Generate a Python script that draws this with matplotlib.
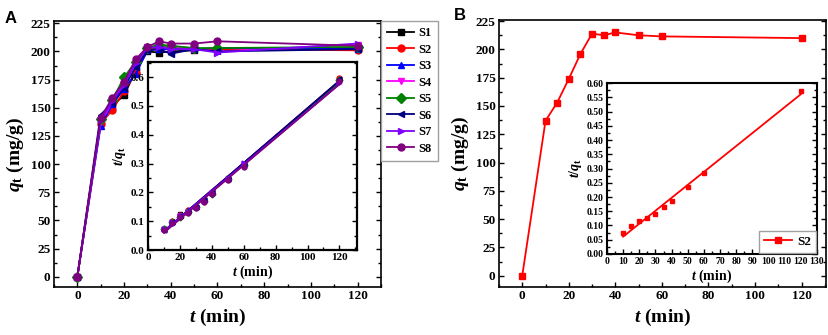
import numpy as np
import matplotlib
matplotlib.use("Agg")
import matplotlib.pyplot as plt
from matplotlib.ticker import MultipleLocator

plt.rcParams['font.family'] = 'Liberation Serif'
plt.rcParams['font.weight'] = 'bold'
plt.rcParams['mathtext.fontset'] = 'custom'
plt.rcParams['mathtext.rm'] = 'Liberation Serif:bold'
plt.rcParams['mathtext.it'] = 'Liberation Serif:bold:italic'
plt.rcParams['mathtext.bf'] = 'Liberation Serif:bold'

# contact time (min)
t = [0, 10, 15, 20, 25, 30, 35, 40, 50, 60, 120]

# panel A: adsorption capacity q_t (mg/g) of the eight samples
labels = ['S1', 'S2', 'S3', 'S4', 'S5', 'S6', 'S7', 'S8']
s1 = [0, 138, 152, 161, 183, 200, 199, 200, 201, 202, 203]
s2 = [0, 136, 148, 165, 181, 202, 203, 203, 202, 202, 201]
s3 = [0, 134, 153, 167, 180, 201, 202, 202, 202, 203, 202]
s4 = [0, 137, 155, 172, 188, 204, 205, 204, 203, 200, 206]
s5 = [0, 140, 157, 177, 191, 203, 206, 205, 203, 203, 204]
s6 = [0, 144, 154, 168, 186, 201, 202, 198, 202, 200, 202]
s7 = [0, 139, 156, 170, 190, 203, 204, 202, 202, 199, 207]
s8 = [0, 141, 159, 173, 193, 204, 209, 207, 207, 209, 205]

# panel B: S2 repeated run
b_s2 = [0, 137, 153, 174, 196, 214, 212.5, 215, 212.5, 211.5, 210]

series = [s1, s2, s3, s4, s5, s6, s7, s8]
colors = ['#000000', '#ff0000', '#0000ff', '#ff00ff', '#008000', '#000080', '#8000ff', '#800080']
markers = ['s', 'o', '^', 'v', 'D', '<', '>', 'o']


def style_axes(ax, size, xmaj, xmin, ymaj, ymin, lw=1.2):
    ax.xaxis.set_major_locator(MultipleLocator(xmaj))
    ax.xaxis.set_minor_locator(MultipleLocator(xmin))
    ax.yaxis.set_major_locator(MultipleLocator(ymaj))
    ax.yaxis.set_minor_locator(MultipleLocator(ymin))
    ax.tick_params(which='both', direction='in', right=True, top=False,
                   labelsize=size, width=1, pad=2.5)
    ax.tick_params(which='major', length=3.5)
    ax.tick_params(which='minor', length=2)
    for sp in ax.spines.values():
        sp.set_linewidth(lw)
    for lab in ax.get_xticklabels() + ax.get_yticklabels():
        lab.set_fontweight('bold')


fig = plt.figure(figsize=(8.29, 3.35), dpi=100)

# ---------- panel A ----------
axA = fig.add_axes([0.0651, 0.1433, 0.3945, 0.794])
handles = []
for y, c, m, lab in zip(series, colors, markers, labels):
    h, = axA.plot(t, y, color=c, marker=m, markersize=5, lw=1.3, label=lab)
    handles.append(h)
axA.set_xlim(-10, 130)
axA.set_ylim(-9, 227)
style_axes(axA, 9.5, 20, 10, 25, 12.5)
axA.set_xlabel(r'$t$ (min)', fontsize=14, fontweight='bold', labelpad=3)
axA.set_ylabel(r'$q_\mathrm{t}$ (mg/g)', fontsize=14, fontweight='bold', labelpad=3)
fig.text(0.006, 0.93, 'A', fontsize=12, fontweight='bold', family='Liberation Sans')

leg = fig.legend(handles=handles, loc='upper left', bbox_to_anchor=(0.459, 0.937),
                 fontsize=9, handlelength=2.2, handletextpad=0.3, labelspacing=0.36,
                 borderpad=0.5, borderaxespad=0, fancybox=False,
                 edgecolor='#a0a0a0', framealpha=1)
for txt in leg.get_texts():
    txt.set_fontweight('bold')

axAi = fig.add_axes([0.1785, 0.2537, 0.2521, 0.561])
for y, c, m in zip(series, colors, markers):
    tt = np.array(t[1:], dtype=float)
    ratio = tt / np.array(y[1:], dtype=float)
    k, b = np.polyfit(tt, ratio, 1)
    axAi.plot(tt, ratio, ls='none', marker=m, color=c, markersize=3.5)
    axAi.plot([10, 120], [k * 10 + b, k * 120 + b], color=c, lw=1.3)
axAi.set_xlim(0, 131)
axAi.set_ylim(0, 0.652)
style_axes(axAi, 8, 20, 10, 0.1, 0.05, lw=1.6)
axAi.set_xlabel(r'$t$ (min)', fontsize=10, fontweight='bold', labelpad=1)
axAi.set_ylabel(r'$t/q_\mathrm{t}$', fontsize=10, fontweight='bold', labelpad=2)

# ---------- panel B ----------
axB = fig.add_axes([0.6019, 0.1433, 0.3945, 0.797])
axB.plot(t, b_s2, color='#ff0000', marker='s', markersize=5, lw=1.3)
axB.set_xlim(-10, 130.5)
axB.set_ylim(-10, 226)
style_axes(axB, 9.5, 20, 10, 25, 12.5)
axB.set_xlabel(r'$t$ (min)', fontsize=14, fontweight='bold', labelpad=3)
axB.set_ylabel(r'$q_\mathrm{t}$ (mg/g)', fontsize=14, fontweight='bold', labelpad=3)
fig.text(0.548, 0.94, 'B', fontsize=12, fontweight='bold', family='Liberation Sans')

axBi = fig.add_axes([0.7322, 0.2418, 0.2533, 0.5104])
tt = np.array(t[1:], dtype=float)
ratio = tt / np.array(b_s2[1:], dtype=float)
k, b = np.polyfit(tt, ratio, 1)
axBi.plot(tt, ratio, ls='none', marker='s', color='#ff0000', markersize=3.5)
axBi.plot([10, 120], [k * 10 + b, k * 120 + b], color='#ff0000', lw=1.3)
axBi.plot([], [], color='#ff0000', marker='s', markersize=4, lw=1.3, label='S2')
axBi.set_xlim(0, 130)
axBi.set_ylim(0, 0.6)
style_axes(axBi, 7, 10, 5, 0.05, 0.025, lw=1.5)
axBi.set_xlabel(r'$t$ (min)', fontsize=10, fontweight='bold', labelpad=1)
axBi.set_ylabel(r'$t/q_\mathrm{t}$', fontsize=10, fontweight='bold', labelpad=2)
lg = axBi.legend(loc='lower right', fontsize=9.5, fancybox=False, edgecolor='#a0a0a0',
                 handlelength=2.1, handletextpad=0.4, borderpad=0.35,
                 borderaxespad=0.1, framealpha=1)
for txt in lg.get_texts():
    txt.set_fontweight('bold')

fig.savefig('out.png', dpi=100)
